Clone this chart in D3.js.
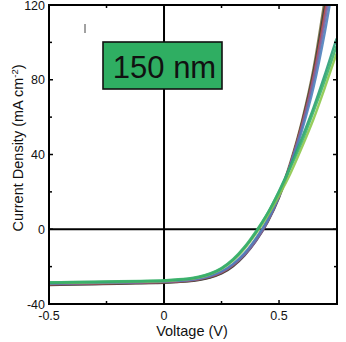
<!DOCTYPE html>
<html>
<head>
<meta charset="utf-8">
<script src="https://cdn.jsdelivr.net/npm/d3@7"></script>
<style>
  html, body { margin: 0; padding: 0; background: #fff; }
  svg { display: block; font-family: "Liberation Sans", Arial, sans-serif; }
</style>
</head>
<body>
<svg id="chart" width="346" height="342"></svg>
<script>
// Voltage sweep points (V)
const voltage = [-0.5, -0.4, -0.3, -0.2, -0.1, 0, 0.05, 0.1, 0.15, 0.2, 0.25, 0.3, 0.35, 0.4, 0.45, 0.5, 0.55, 0.6, 0.65, 0.7, 0.75];

// Current density of each device (mA cm^-2)
const devOlive  = [-29.6, -29.4, -29.2, -29.0, -28.8, -28.5, -28.2, -27.8, -27.0, -25.7, -23.4, -19.4, -13.5, -5.5, 4.5, 18, 36, 58, 86, 124, 165];
const devDark   = [-29.8, -29.6, -29.4, -29.2, -28.9, -28.6, -28.3, -27.9, -27.2, -25.9, -23.7, -19.8, -14.0, -6.2, 3.8, 17, 35, 57, 84, 120, 160];
const devRed    = [-29.4, -29.2, -29.0, -28.8, -28.6, -28.3, -28.0, -27.6, -26.8, -25.4, -23.1, -19.2, -13.4, -5.4, 4.6, 18, 35, 56, 82, 116, 155];
const devPurple = [-29.2, -29.0, -28.8, -28.6, -28.4, -28.1, -27.8, -27.4, -26.6, -25.2, -22.9, -19.0, -13.6, -6.0, 4.0, 17.5, 35, 55, 80, 112, 150];
const devBlue   = [-29.0, -28.8, -28.6, -28.4, -28.2, -27.9, -27.6, -27.2, -26.4, -24.9, -22.5, -18.5, -12.8, -4.8, 5.0, 18, 34, 53, 76, 106, 142];
const devLime   = [-28.8, -28.6, -28.4, -28.2, -28.0, -27.7, -27.3, -26.8, -25.8, -24.1, -21.3, -16.8, -10.4, -2.2, 7.2, 18, 30, 44, 59, 76, 94];
const devTeal   = [-28.6, -28.4, -28.2, -28.0, -27.8, -27.5, -27.1, -26.6, -25.6, -23.9, -21.0, -16.4, -9.8, -1.5, 8.5, 20.5, 34, 49, 65, 83, 102];
const devGreen  = [-28.4, -28.2, -28.0, -27.8, -27.6, -27.3, -26.9, -26.4, -25.4, -23.6, -20.7, -16.0, -9.4, -1.0, 8.5, 20, 33, 47, 63, 80, 98];

const seriesList = [
  { values: devOlive,  color: "#7d7444" },
  { values: devDark,   color: "#3c3c3c" },
  { values: devRed,    color: "#c0504d" },
  { values: devPurple, color: "#8064a2" },
  { values: devBlue,   color: "#4f81bd" },
  { values: devLime,   color: "#8cc84b" },
  { values: devTeal,   color: "#2a9d78" },
  { values: devGreen,  color: "#3cb36a" }
];

// Axis ticks
const xMajor = [-0.5, 0, 0.5];
const xMinor = [-0.25, 0.25];
const yMajor = [-40, 0, 40, 80, 120];
const yMinor = [-20, 20, 60, 100];
const thicknessLabel = "150 nm";

const svg = d3.select("#chart");
const m = { left: 49, right: 337, top: 5, bottom: 304 };

const x = d3.scaleLinear().domain([-0.5, 0.752]).range([m.left, m.right]);
const y = d3.scaleLinear().domain([-40, 120]).range([m.bottom, m.top]);

svg.append("defs").append("clipPath").attr("id", "plotClip")
  .append("rect")
  .attr("x", m.left).attr("y", m.top)
  .attr("width", m.right - m.left).attr("height", m.bottom - m.top);

// Zero reference lines
svg.append("line")
  .attr("x1", x(0)).attr("x2", x(0)).attr("y1", m.top).attr("y2", m.bottom)
  .attr("stroke", "#000").attr("stroke-width", 2);
svg.append("line")
  .attr("x1", m.left).attr("x2", m.right).attr("y1", y(0)).attr("y2", y(0))
  .attr("stroke", "#000").attr("stroke-width", 2);

// J-V curves
const line = d3.line()
  .x((d, i) => x(voltage[i]))
  .y(d => y(d))
  .curve(d3.curveMonotoneX);

svg.append("g").attr("clip-path", "url(#plotClip)")
  .selectAll("path")
  .data(seriesList)
  .join("path")
  .attr("d", s => line(s.values))
  .attr("fill", "none")
  .attr("stroke", s => s.color)
  .attr("stroke-width", 2.4)
  .attr("stroke-opacity", 0.9);

// Small stray stroke in the upper-left
svg.append("line")
  .attr("x1", 85).attr("x2", 85).attr("y1", 24).attr("y2", 33)
  .attr("stroke", "#444").attr("stroke-width", 1);

// Thickness label box
const box = svg.append("g");
box.append("rect")
  .attr("x", 103).attr("y", 42).attr("width", 119).attr("height", 47)
  .attr("fill", "#2fae62").attr("stroke", "#111").attr("stroke-width", 1.6);
box.append("text")
  .attr("x", 164.5).attr("y", 77.5)
  .attr("text-anchor", "middle")
  .attr("font-size", 31)
  .attr("fill", "#111")
  .text(thicknessLabel);

// Frame
svg.append("rect")
  .attr("x", m.left).attr("y", m.top)
  .attr("width", m.right - m.left).attr("height", m.bottom - m.top)
  .attr("fill", "none").attr("stroke", "#000").attr("stroke-width", 2);

// Inward ticks on all four sides
const tickG = svg.append("g").attr("stroke", "#000").attr("stroke-width", 1.5);
xMajor.concat(xMinor).forEach(v => {
  const len = xMajor.includes(v) ? 4 : 3;
  tickG.append("line").attr("x1", x(v)).attr("x2", x(v)).attr("y1", m.bottom).attr("y2", m.bottom - len);
  tickG.append("line").attr("x1", x(v)).attr("x2", x(v)).attr("y1", m.top).attr("y2", m.top + len);
});
yMajor.concat(yMinor).forEach(v => {
  const len = yMajor.includes(v) ? 4 : 3;
  tickG.append("line").attr("x1", m.left).attr("x2", m.left + len).attr("y1", y(v)).attr("y2", y(v));
  tickG.append("line").attr("x1", m.right).attr("x2", m.right - len).attr("y1", y(v)).attr("y2", y(v));
});

// Tick labels
svg.append("g").selectAll("text").data(yMajor).join("text")
  .attr("x", 45).attr("y", d => y(d) + 4.5)
  .attr("text-anchor", "end").attr("font-size", 12.5).attr("fill", "#111")
  .text(d => d);

svg.append("g").selectAll("text").data(xMajor).join("text")
  .attr("x", d => x(d)).attr("y", 320)
  .attr("text-anchor", "middle").attr("font-size", 12.5).attr("fill", "#111")
  .text(d => d);

// Axis titles
svg.append("text")
  .attr("x", 192).attr("y", 336)
  .attr("text-anchor", "middle").attr("font-size", 14.5).attr("fill", "#111")
  .text("Voltage (V)");

const yTitle = svg.append("text")
  .attr("transform", "translate(23,148) rotate(-90)")
  .attr("text-anchor", "middle").attr("font-size", 14.5).attr("fill", "#111");
yTitle.append("tspan").text("Current Density (mA cm");
yTitle.append("tspan").attr("font-size", 9.5).attr("dy", -5).text("-2");
yTitle.append("tspan").attr("dy", 5).text(")");
</script>
</body>
</html>
